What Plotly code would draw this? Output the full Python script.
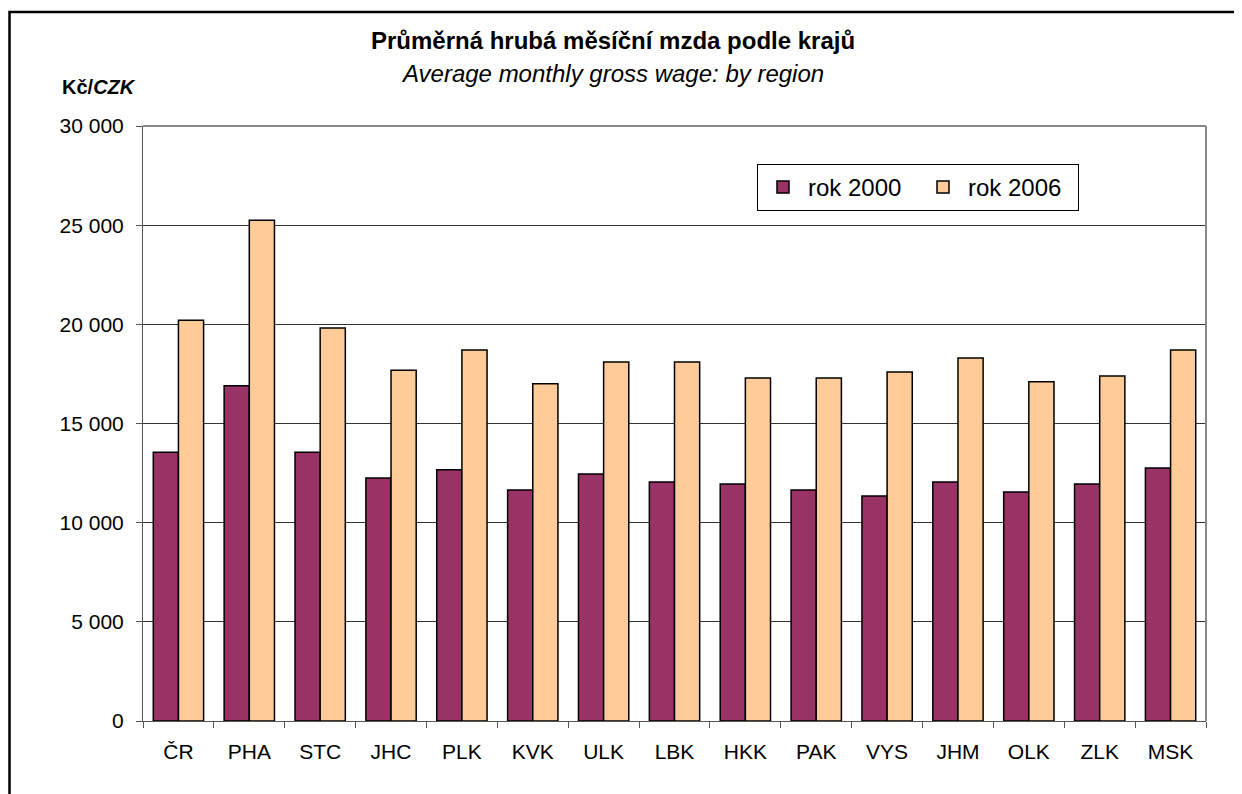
import plotly.graph_objects as go

regions = ["ČR", "PHA", "STC", "JHC", "PLK", "KVK", "ULK", "LBK", "HKK", "PAK", "VYS", "JHM", "OLK", "ZLK", "MSK"]
wage_2000 = [13550, 16900, 13550, 12250, 12670, 11650, 12460, 12050, 11950, 11650, 11350, 12050, 11550, 11950, 12760]
wage_2006 = [20200, 25250, 19820, 17680, 18710, 17010, 18100, 18100, 17300, 17300, 17600, 18300, 17100, 17400, 18700]
series_names = ["rok 2000", "rok 2006"]

FONT = "Liberation Sans, Arial, sans-serif"

fig = go.Figure()
fig.add_trace(go.Bar(x=regions, y=wage_2000, name=series_names[0],
                     marker=dict(color="#993366", line=dict(color="black", width=1.5))))
fig.add_trace(go.Bar(x=regions, y=wage_2006, name=series_names[1],
                     marker=dict(color="#FFCC99", line=dict(color="black", width=1.5))))

OFF = 8  # page body margin
W, H = 1234, 786
L, T = 143 - OFF, 126 - OFF
R = W - (1206 - OFF)
B = H - (721 - OFF)
pw, ph = W - L - R, H - T - B

def px(x):
    return (x - OFF - L) / pw

def py(y):
    return (H - B - (y - OFF)) / ph

fig.update_layout(
    width=W, height=H,
    margin=dict(l=L, r=R, t=T, b=B, pad=0),
    paper_bgcolor="white", plot_bgcolor="white",
    separators=", ",
    barmode="group", bargap=0.29, bargroupgap=0,
    font=dict(family=FONT, size=21, color="black"),
    showlegend=True,
    legend=dict(orientation="h", x=px(757), y=py(164), xanchor="left", yanchor="top",
                bordercolor="black", borderwidth=1, bgcolor="white",
                font=dict(size=24), itemwidth=40, entrywidth=105, entrywidthmode="pixels",
                traceorder="normal"),
    xaxis=dict(showline=True, linecolor="#555", linewidth=1, mirror=False,
               ticks="outside", tickson="boundaries", ticklen=6, tickcolor="#555",
               tickfont=dict(size=21), ticklabelstandoff=12),
    yaxis=dict(range=[0, 30000], dtick=5000, tickformat=",d",
               showline=True, linecolor="#555", linewidth=1,
               ticks="outside", ticklen=6, tickcolor="#555",
               showgrid=True, gridcolor="#333", gridwidth=1,
               zeroline=False, tickfont=dict(size=21), ticklabelstandoff=8),
    shapes=[
        dict(type="line", xref="paper", yref="paper", x0=0, x1=1, y0=1, y1=1,
             line=dict(color="#888", width=2)),
        dict(type="line", xref="paper", yref="paper", x0=1, x1=1, y0=0, y1=1,
             line=dict(color="#888", width=2)),
        dict(type="rect", xref="paper", yref="paper", x0=px(OFF + 1.5), x1=px(1280), y0=py(830), y1=py(12),
             line=dict(color="black", width=2.5), fillcolor="rgba(0,0,0,0)", layer="below"),
    ],
    annotations=[
        dict(text="<b>Průměrná hrubá měsíční mzda podle krajů</b>", xref="paper", yref="paper",
             x=px(613), y=py(40), xanchor="center", yanchor="middle", showarrow=False,
             font=dict(size=24)),
        dict(text="<i>Average monthly gross wage: by region</i>", xref="paper", yref="paper",
             x=px(612), y=py(73), xanchor="center", yanchor="middle", showarrow=False,
             font=dict(size=24)),
        dict(text="<b>Kč/<i>CZK</i></b>", xref="paper", yref="paper",
             x=px(60), y=py(87), xanchor="left", yanchor="middle", showarrow=False,
             font=dict(size=20)),
    ],
)

fig.write_html("out.html")
